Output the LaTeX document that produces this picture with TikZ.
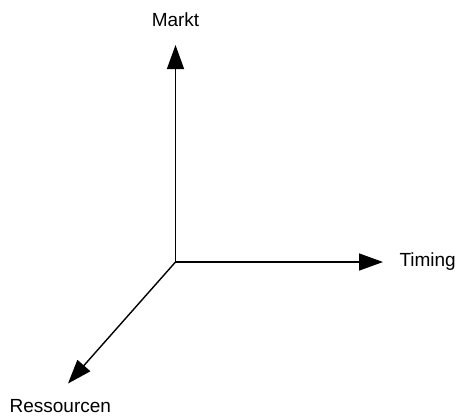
\documentclass[tikz,border=0pt]{standalone}
\usepackage{fontspec}
\setmainfont{Liberation Sans}
\usetikzlibrary{arrows.meta}
\begin{document}
\begin{tikzpicture}[x=1bp,y=-1bp,
  axis/.style={line width=1.4bp,-{Triangle[length=24bp,width=17bp]}},
  lbl/.style={inner sep=0pt,font=\fontsize{19bp}{23bp}\selectfont}]
  \useasboundingbox (0,0) rectangle (457,417);
  \coordinate (O) at (175.5,262);
  \coordinate (up) at (175.5,45);
  \coordinate (right) at (383,262);
  \coordinate (down) at (68,383.5);
  \node[lbl,anchor=base] (markt) at (175.5,26) {Markt};
  \node[lbl,anchor=base west] (timing) at (399.3,266.7) {Timing};
  \node[lbl,anchor=base] (res) at (60.3,412.7) {Ressourcen};
  \draw[axis] (O) -- (up);
  \draw[axis] (O) -- (right);
  \draw[axis] (O) -- (down);
\end{tikzpicture}
\end{document}
